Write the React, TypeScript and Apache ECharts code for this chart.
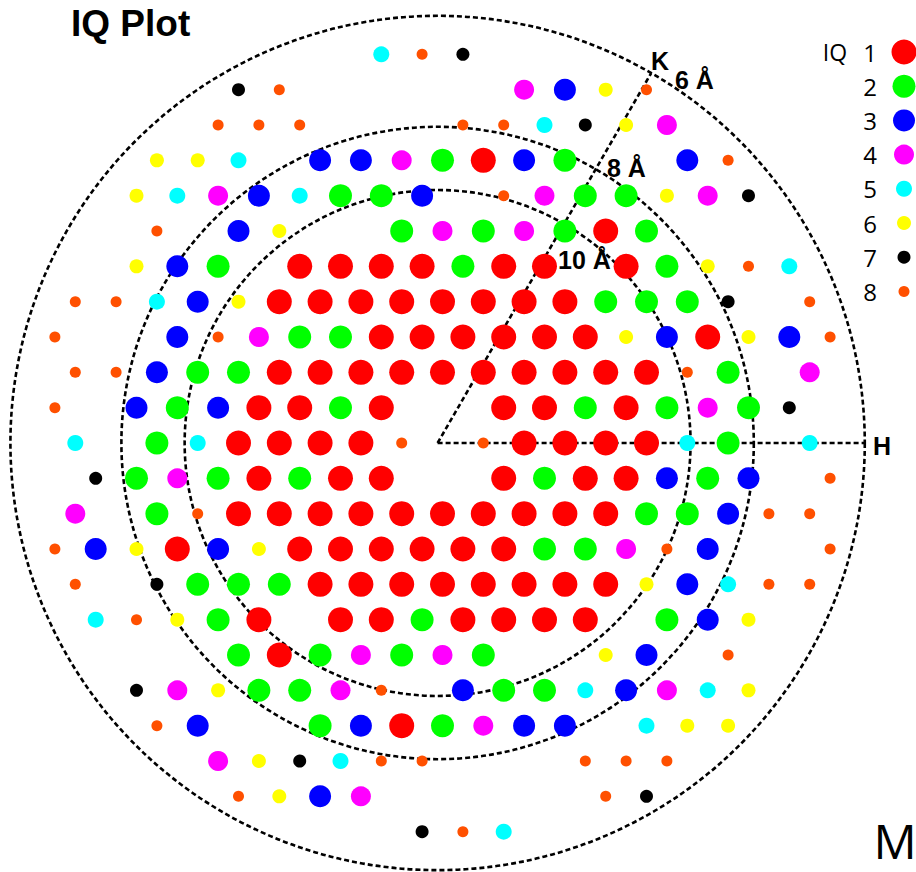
import React, { useEffect, useRef } from "react";
import * as echarts from "echarts";

// Reflection positions on a hexagonal lattice: [u, row]
// u = position along H in half lattice spacings, row = lattice row (up = +)
const IQ1: [number, number][] = [
  [2, 8],
  [8, 6],
  [-7, 5], [-5, 5], [-3, 5], [-1, 5], [3, 5], [5, 5], [9, 5],
  [-8, 4], [-6, 4], [-4, 4], [-2, 4], [0, 4], [2, 4], [4, 4], [6, 4],
  [-3, 3], [-1, 3], [1, 3], [3, 3], [5, 3], [7, 3], [13, 3],
  [-8, 2], [-6, 2], [-4, 2], [-2, 2], [0, 2], [2, 2], [4, 2], [6, 2], [8, 2], [10, 2],
  [-9, 1], [-7, 1], [-3, 1], [3, 1], [5, 1], [9, 1],
  [-10, 0], [-8, 0], [-6, 0], [-4, 0], [4, 0], [6, 0], [8, 0], [10, 0],
  [-9, -1], [-5, -1], [-3, -1], [3, -1], [7, -1], [9, -1],
  [-10, -2], [-8, -2], [-6, -2], [-4, -2], [-2, -2], [0, -2], [2, -2], [4, -2], [6, -2], [8, -2],
  [-13, -3], [-7, -3], [-5, -3], [-3, -3], [-1, -3], [1, -3], [3, -3],
  [-6, -4], [-4, -4], [-2, -4], [0, -4], [2, -4], [4, -4], [6, -4], [8, -4],
  [-9, -5], [-5, -5], [-3, -5], [1, -5], [3, -5], [5, -5], [7, -5],
  [-8, -6],
  [-2, -8],
];
const IQ2: [number, number][] = [
  [0, 8], [6, 8],
  [-5, 7], [-3, 7], [7, 7], [9, 7],
  [-2, 6], [2, 6], [6, 6], [10, 6],
  [-11, 5], [1, 5], [11, 5],
  [8, 4], [10, 4], [12, 4],
  [-7, 3], [-5, 3],
  [-12, 2], [-10, 2], [14, 2],
  [-13, 1], [-5, 1], [7, 1], [11, 1], [15, 1],
  [-14, 0], [14, 0],
  [-15, -1], [-11, -1], [-7, -1], [5, -1], [13, -1],
  [-14, -2], [10, -2], [12, -2],
  [5, -3], [7, -3],
  [-12, -4], [-10, -4], [-8, -4],
  [-11, -5], [-1, -5], [11, -5],
  [-10, -6], [-6, -6], [-2, -6], [2, -6],
  [-9, -7], [-7, -7], [3, -7], [5, -7],
  [-6, -8], [0, -8],
];
const IQ3: [number, number][] = [
  [6, 10],
  [-6, 8], [-4, 8], [4, 8], [12, 8],
  [-9, 7], [-1, 7],
  [-10, 6],
  [-13, 5],
  [-12, 4],
  [-13, 3], [11, 3], [17, 3],
  [-14, 2],
  [-15, 1], [-11, 1],
  [11, -1], [15, -1],
  [14, -2],
  [-17, -3], [-11, -3], [13, -3],
  [12, -4],
  [13, -5],
  [10, -6],
  [1, -7], [9, -7],
  [-12, -8], [-4, -8], [4, -8], [6, -8],
  [-6, -10],
];
const IQ4: [number, number][] = [
  [4, 10], [11, 9], [-2, 8], [-11, 7], [5, 7], [13, 7], [0, 6], [4, 6], [-9, 3],
  [18, 2], [13, 1], [-13, -1], [-18, -2], [9, -3], [-4, -6], [0, -6], [-13, -7],
  [-5, -7], [11, -7], [2, -8], [-11, -9], [-4, -10],
];
const IQ5: [number, number][] = [
  [-3, 11], [5, 9], [-10, 8], [-13, 7], [-7, 7], [17, 5], [-14, 4], [-18, 0],
  [-12, 0], [12, 0], [18, 0], [14, -4], [-17, -5], [7, -7], [13, -7], [10, -8],
  [-5, -9], [3, -11],
];
const IQ6: [number, number][] = [
  [8, 10], [9, 9], [-14, 8], [-12, 8], [-15, 7], [11, 7], [-8, 6], [-15, 5], [13, 5],
  [-10, 4], [9, 3], [15, 3], [-15, -3], [-9, -3], [10, -4], [-13, -5], [15, -5],
  [8, -6], [-11, -7], [15, -7], [12, -8], [14, -8], [-9, -9], [-8, -10],
];
const IQ7: [number, number][] = [
  [1, 11], [-10, 10], [7, 9], [15, 7], [14, 4], [17, 1], [-17, -1], [-14, -4],
  [-15, -7], [-7, -9], [10, -10], [-1, -11],
];
const IQ8: [number, number][] = [
  [-1, 11], [-8, 10], [10, 10], [-11, 9], [-9, 9], [-7, 9], [1, 9], [3, 9], [14, 8],
  [3, 7], [-14, 6], [15, 5], [-18, 4], [-16, 4], [18, 4], [-19, 3], [-11, 3], [19, 3],
  [-18, 2], [-16, 2], [12, 2], [-19, 1], [-2, 0], [2, 0], [19, -1], [-12, -2],
  [16, -2], [18, -2], [-19, -3], [11, -3], [19, -3], [-18, -4], [16, -4], [18, -4],
  [-15, -5], [14, -6], [-3, -7], [-14, -8], [-3, -9], [-1, -9], [7, -9], [9, -9],
  [11, -9], [-10, -10], [8, -10], [1, -11],
];

const IQ_LEVELS = ["1", "2", "3", "4", "5", "6", "7", "8"];
const IQ_DATA = [IQ1, IQ2, IQ3, IQ4, IQ5, IQ6, IQ7, IQ8];
const IQ_COLORS = ["#FF0000", "#00FF00", "#0000FF", "#FF00FF", "#00FFFF", "#FFFF00", "#000000", "#FF5000"];
const IQ_SIZES = [25, 23, 22, 20, 16, 14, 13, 11];

// resolution rings (radius in lattice spacings) and labels
const RING_LABELS = ["6 Å", "8 Å", "10 Å"];
const RING_RADII = [10.47, 7.75, 6.2];
const AXIS_ANGLES = [0, 60]; // H and K directions (degrees)

const SQ3_2 = Math.sqrt(3) / 2;
const RING_CX = -0.12;

const W = 916;
const H = 872;
const PX = 40.8; // pixels per lattice spacing
const OX = 442.5;
const OY = 443;

export default function App() {
  const ref = useRef<HTMLDivElement>(null);
  useEffect(() => {
    if (!ref.current) return;
    const chart = echarts.init(ref.current, undefined, { renderer: "svg" });

    const dashStyle = { fill: "none", stroke: "#000", lineWidth: 2.6, lineDash: [5, 3] };

    const scatterSeries = IQ_DATA.map((pts, i) => ({
      type: "scatter",
      name: IQ_LEVELS[i],
      data: pts.map(([u, r]) => [u * 0.5, r * SQ3_2]),
      symbol: "circle",
      symbolSize: IQ_SIZES[i],
      itemStyle: { color: IQ_COLORS[i], opacity: 1 },
      z: 10,
      silent: true,
    }));

    const legendY0 = 52;
    const legendDy = 34.2;
    const legendGraphics: any[] = [
      {
        type: "text",
        x: 835,
        y: legendY0,
        style: {
          text: "IQ",
          font: '23px "Open Sans", sans-serif',
          fill: "#000",
          align: "center",
          verticalAlign: "middle",
          textAlign: "center",
          textVerticalAlign: "middle",
        },
      },
    ];
    IQ_LEVELS.forEach((lv, i) => {
      legendGraphics.push({
        type: "text",
        x: 870,
        y: legendY0 + i * legendDy,
        style: {
          text: lv,
          font: '24px "Open Sans", sans-serif',
          fill: "#000",
          align: "center",
          verticalAlign: "middle",
          textAlign: "center",
          textVerticalAlign: "middle",
        },
      });
      legendGraphics.push({
        type: "circle",
        shape: { cx: 904, cy: legendY0 + i * legendDy, r: IQ_SIZES[i] / 2 },
        style: { fill: IQ_COLORS[i] },
      });
    });

    const boldText = (text: string, x: number, y: number, align: string, size = 25) => ({
      type: "text",
      x,
      y,
      z: 100,
      style: {
        text,
        font: `bold ${size}px "Liberation Sans", Arial, sans-serif`,
        fill: "#000",
        align,
        verticalAlign: "middle",
        textAlign: align,
        textVerticalAlign: "middle",
      },
    });

    const option: any = {
      animation: false,
      backgroundColor: "#fff",
      grid: { left: 0, right: 0, top: 0, bottom: 0, containLabel: false },
      xAxis: { type: "value", min: -OX / PX, max: (W - OX) / PX, show: false },
      yAxis: { type: "value", min: -(H - OY) / PX, max: OY / PX, show: false },
      series: [
        {
          type: "custom",
          silent: true,
          z: 1,
          data: RING_RADII.map((r) => [r]),
          renderItem: (_p: any, api: any) => {
            const r = api.value(0);
            const c = api.coord([RING_CX, 0]);
            const e = api.coord([RING_CX + r, 0]);
            return { type: "circle", shape: { cx: c[0], cy: c[1], r: e[0] - c[0] }, style: dashStyle };
          },
        },
        {
          type: "custom",
          silent: true,
          z: 1,
          data: AXIS_ANGLES.map((a) => [a]),
          renderItem: (_p: any, api: any) => {
            const a = (api.value(0) * Math.PI) / 180;
            const R = RING_RADII[0];
            const c = api.coord([RING_CX, 0]);
            const e = api.coord([RING_CX + R * Math.cos(a), R * Math.sin(a)]);
            return { type: "line", shape: { x1: c[0], y1: c[1], x2: e[0], y2: e[1] }, style: dashStyle };
          },
        },
        ...scatterSeries,
      ],
      graphic: [
        boldText("IQ Plot", 71, 23, "left", 37),
        boldText("K", 660, 61, "center"),
        boldText(RING_LABELS[0], 675, 80, "left"),
        boldText(RING_LABELS[1], 607, 168, "left"),
        boldText(RING_LABELS[2], 558, 260, "left"),
        boldText("H", 882, 446, "center"),
        {
          type: "text",
          x: 895,
          y: 840,
          style: {
            text: "M",
            font: '48px "Open Sans", sans-serif',
            fill: "#000",
            align: "center",
            verticalAlign: "middle",
            textAlign: "center",
            textVerticalAlign: "middle",
          },
        },
        ...legendGraphics,
      ],
    };
    chart.setOption(option);
    return () => chart.dispose();
  }, []);
  return (
    <div
      ref={ref}
      style={{ position: "fixed", left: 0, top: 0, width: W, height: H, background: "#fff" }}
    />
  );
}
